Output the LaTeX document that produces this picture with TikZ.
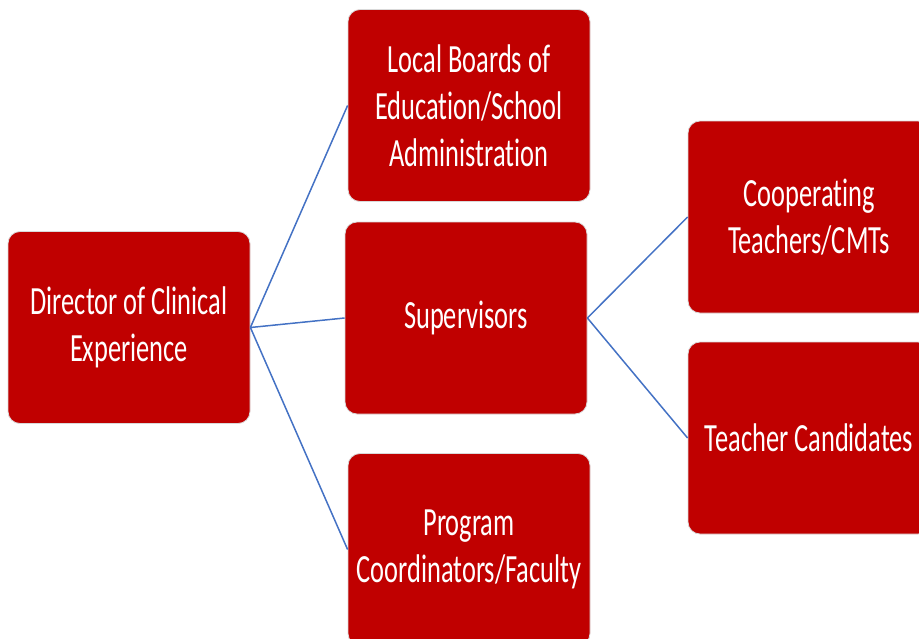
\documentclass[tikz,border=0pt]{standalone}
\usepackage{fontspec}
\setmainfont{Carlito}[FakeStretch=0.66,Ligatures={NoCommon}]
\definecolor{boxred}{HTML}{C00000}
\definecolor{linkblue}{HTML}{4472C4}
\begin{document}
\begin{tikzpicture}[x=1pt,y=-1pt,
  orgbox/.style={rectangle, rounded corners=12pt, fill=boxred, draw=black!15, line width=0.8pt,
    minimum width=242pt, minimum height=192pt, inner sep=0pt, text=white, align=center,
    font=\fontsize{40}{47}\selectfont},
  link/.style={draw=linkblue, line width=1.5pt}]
\useasboundingbox (0,0) rectangle (919,638);
\clip (0,0) rectangle (919,638);
\node[orgbox] (dir) at (129,327.5) {Director of Clinical\\Experience};
\node[orgbox] (lb) at (469,105.5) {Local Boards of\\Education/School\\Administration};
\node[orgbox] (sup) at (466,318) {Supervisors};
\node[orgbox] (prog) at (469,549.5) {Program\\Coordinators/Faculty};
\node[orgbox] (coop) at (809,217) {Cooperating\\Teachers/CMTs};
\node[orgbox] (tc) at (809,438) {Teacher Candidates};
\draw[link] (dir.east) -- (lb.west);
\draw[link] (dir.east) -- (sup.west);
\draw[link] (dir.east) -- (prog.west);
\draw[link] (sup.east) -- (coop.west);
\draw[link] (sup.east) -- (tc.west);
\end{tikzpicture}
\end{document}
